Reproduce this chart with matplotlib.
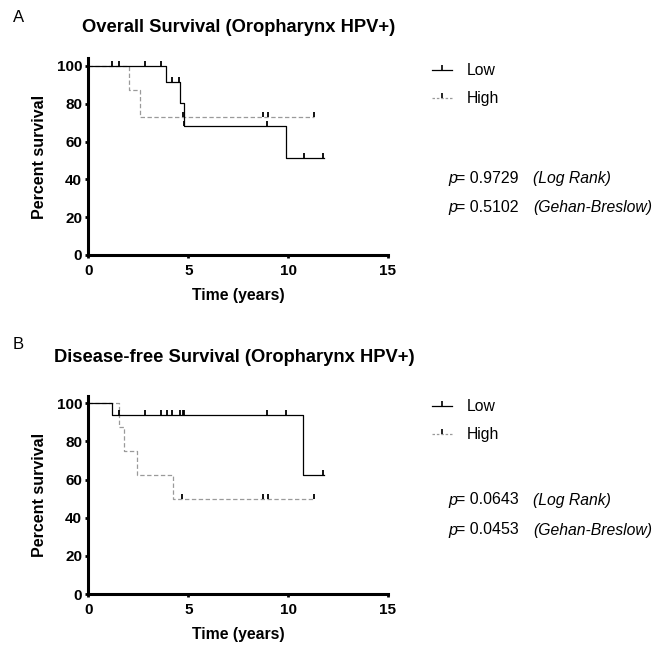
import matplotlib
matplotlib.use('Agg')
import matplotlib.pyplot as plt
from matplotlib.lines import Line2D
import numpy as np

plt.rcParams['font.family'] = ['Liberation Sans', 'DejaVu Sans']

# panel A: overall survival
os_low_t = [0, 3.9, 4.57, 4.77, 9.9, 11.78]
os_low_s = [100, 91.7, 80.2, 68.5, 51.3, 51.3]
os_low_cens = [1.17, 1.53, 2.85, 3.63, 4.18, 4.55, 4.8, 8.93, 10.8, 11.75]
os_high_t = [0, 2.05, 2.57, 11.3]
os_high_s = [100, 87.5, 72.9, 72.9]
os_high_cens = [4.73, 8.72, 9.0, 11.3]
os_p = ['0.9729', '0.5102']

# panel B: disease-free survival
dfs_low_t = [0, 1.17, 10.76, 11.78]
dfs_low_s = [100, 93.75, 62.5, 62.5]
dfs_low_cens = [1.53, 2.85, 3.63, 3.92, 4.18, 4.6, 4.72, 4.8, 8.93, 9.9, 11.75]
dfs_high_t = [0, 1.52, 1.77, 2.43, 4.23, 11.3]
dfs_high_s = [100, 87.5, 75, 62.5, 50, 50]
dfs_high_cens = [4.7, 8.72, 9.0, 11.3]
dfs_p = ['0.0643', '0.0453']

x_ticks = [0, 5, 10, 15]
y_ticks = [0, 20, 40, 60, 80, 100]
tests = ['(Log Rank)', '(Gehan-Breslow)']

# upward tick for censored cases
tick = [(0, 0), (0, 1)]
low_col = 'black'
high_col = '#9a9a9a'


def surv_at(t, times, surv):
    i = np.searchsorted(times, t, side='right') - 1
    return np.array(surv)[i]


def panel(ax, low_t, low_s, low_c, high_t, high_s, high_c):
    ax.step(high_t, high_s, where='post', color=high_col, lw=0.9,
            ls=(0, (3.5, 2)))
    ax.step(low_t, low_s, where='post', color=low_col, lw=0.9)
    ax.plot(high_c, surv_at(high_c, high_t, high_s), ls='none',
            marker=tick, ms=7, mew=1.3, color='black')
    ax.plot(low_c, surv_at(low_c, low_t, low_s), ls='none',
            marker=tick, ms=7, mew=1.3, color='black')
    ax.set_xlim(0, 15)
    ax.set_ylim(0, 104)
    ax.set_xticks(x_ticks)
    ax.set_yticks(y_ticks)
    for s in ['top', 'right']:
        ax.spines[s].set_visible(False)
    for s in ['left', 'bottom']:
        ax.spines[s].set_linewidth(2.2)
    ax.spines['left'].set_bounds(0, 104)
    ax.tick_params(width=2, length=2.5, labelsize=11)
    ax.tick_params(axis='x', pad=4)
    ax.tick_params(axis='y', pad=2)
    for lab in ax.get_xticklabels() + ax.get_yticklabels():
        lab.set_fontweight('bold')
    ax.set_xlabel('Time (years)', fontsize=11.3, fontweight='bold', labelpad=7)
    ax.set_ylabel('Percent survival', fontsize=11.5, fontweight='bold', labelpad=7)


fig = plt.figure(figsize=(6.55, 6.46), dpi=100)
W, H = 655, 646

axA = fig.add_axes([88.5 / W, (H - 255) / H, 299.5 / W, 196.6 / H])
panel(axA, os_low_t, os_low_s, os_low_cens, os_high_t, os_high_s, os_high_cens)
axB = fig.add_axes([88.5 / W, (H - 594) / H, 299.5 / W, 198.3 / H])
panel(axB, dfs_low_t, dfs_low_s, dfs_low_cens, dfs_high_t, dfs_high_s, dfs_high_cens)

fig.text(13 / W, 1 - 18 / H, 'A', fontsize=12, va='center')
fig.text(13 / W, 1 - 345 / H, 'B', fontsize=12, va='center')
fig.text(239 / W, 1 - 27 / H, 'Overall Survival (Oropharynx HPV+)',
         fontsize=13.2, fontweight='bold', ha='center', va='center')
fig.text(234 / W, 1 - 358 / H, 'Disease-free Survival (Oropharynx HPV+)',
         fontsize=13.2, fontweight='bold', ha='center', va='center')

handles = [
    Line2D([], [], color=low_col, lw=0.9, marker=tick, ms=7, mew=1.2,
           mec='black'),
    Line2D([], [], color=high_col, lw=0.9, ls=(0, (2, 1.5)), marker=tick,
           ms=7, mew=1.2, mec='black'),
]
for ax, ly, pvals, py in [(axA, 72, os_p, 178), (axB, 408, dfs_p, 500)]:
    fig.legend(handles, ['Low', 'High'], loc='upper left',
               bbox_to_anchor=(432 / W, 1 - (ly - 9) / H),
               frameon=False, fontsize=11.3, handlelength=1.3,
               handletextpad=0.9, labelspacing=0.85, numpoints=1,
               borderaxespad=0, borderpad=0)
    for k, (pv, test) in enumerate(zip(pvals, tests)):
        y = 1 - (py + 30 * k) / H
        fig.text(448 / W, y, 'p', fontsize=11.5, va='center', style='italic')
        fig.text(456.5 / W, y, '= ' + pv, fontsize=11.5, va='center')
        fig.text(533 / W, y, test, fontsize=11.3, va='center', style='italic')

fig.savefig('out.png', dpi=100)
